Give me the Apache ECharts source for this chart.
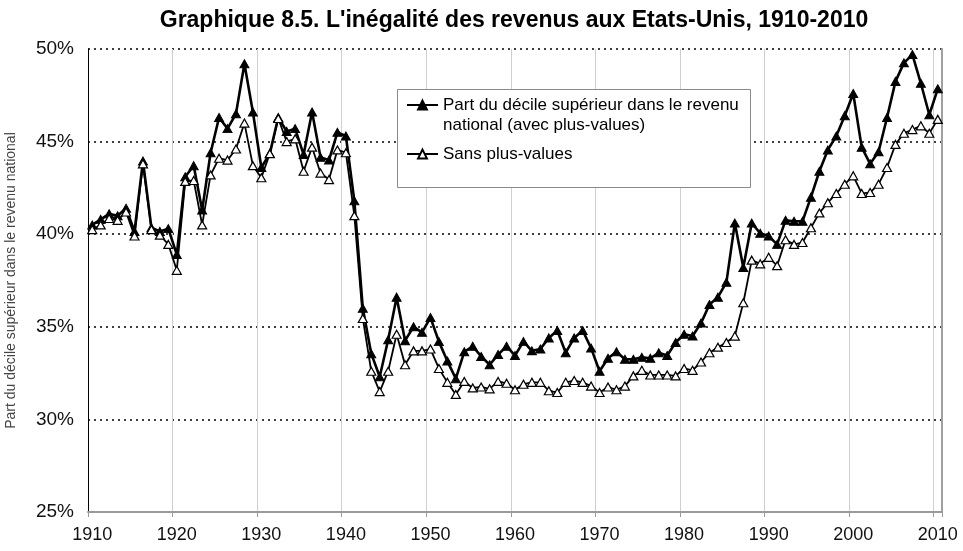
<!DOCTYPE html>
<html>
<head>
<meta charset="utf-8">
<script src="https://cdn.jsdelivr.net/npm/echarts@6/dist/echarts.min.js"></script>
<style>
  html, body { margin: 0; padding: 0; background: #fff; }
  #chart { width: 963px; height: 551px; }
</style>
</head>
<body>
<div id="chart"></div>
<script>
// years 1910 .. 2010
const years = []
for (let y = 1910; y <= 2010; y++) years.push(String(y))

// Part du décile supérieur (avec plus-values), %
const withGains = [
  40.5, 40.8, 41.1, 41.0, 41.4, 40.15, 43.95, 40.35, 40.15, 40.3,
  38.9, 43.1, 43.7, 41.3, 44.4, 46.3, 45.7, 46.5, 49.2, 46.6,
  43.6, 44.35, 46.3, 45.55, 45.7, 44.3, 46.6, 44.15, 44.0, 45.5,
  45.3, 41.8, 36.0, 33.55, 32.3, 34.3, 36.6, 34.25, 35.0, 34.7,
  35.5, 34.2, 33.15, 32.2, 33.65, 33.95, 33.4, 32.95, 33.5, 33.95,
  33.45, 34.2, 33.7, 33.8, 34.4, 34.8, 33.6, 34.4, 34.8, 33.85,
  32.6, 33.3, 33.65, 33.25, 33.25, 33.35, 33.3, 33.6, 33.45, 34.15,
  34.6, 34.5, 35.2, 36.2, 36.6, 37.4, 40.6, 38.2, 40.6, 40.05,
  39.9, 39.45, 40.75, 40.7, 40.7, 42.0, 43.4, 44.55, 45.3, 46.4,
  47.6, 44.7, 43.8, 44.45, 46.3, 48.25, 49.25, 49.7, 48.15, 46.45,
  47.85
]

// Sans plus-values, %
const withoutGains = [
  40.25, 40.5, 40.85, 40.75, 41.2, 39.9, 43.8, 40.25, 39.95, 39.45,
  38.05, 42.85, 42.9, 40.5, 43.2, 44.1, 44.0, 44.6, 46.0, 43.7,
  43.05, 44.35, 46.25, 45.0, 45.15, 43.4, 44.7, 43.3, 42.95, 44.55,
  44.4, 41.0, 35.45, 32.6, 31.5, 32.6, 34.6, 32.95, 33.7, 33.7,
  33.8, 32.75, 32.0, 31.35, 32.05, 31.7, 31.75, 31.65, 32.05, 31.95,
  31.6, 31.9, 32.0, 32.0, 31.55, 31.45, 32.0, 32.1, 32.0, 31.8,
  31.45, 31.75, 31.6, 31.8, 32.35, 32.65, 32.4, 32.4, 32.4, 32.35,
  32.75, 32.65, 33.1, 33.6, 33.9, 34.15, 34.5, 36.3, 38.6, 38.4,
  38.75, 38.3, 39.7, 39.45, 39.55, 40.35, 41.15, 41.7, 42.2, 42.7,
  43.15, 42.2, 42.25, 42.7, 43.6, 44.85, 45.45, 45.65, 45.85, 45.45,
  46.2
]

const nameA = 'Part du décile supérieur dans le revenu national (avec plus-values)'
const nameB = 'Sans plus-values'

const chart = echarts.init(document.getElementById('chart'))

const option = {
  animation: false,
  textStyle: { fontFamily: 'Liberation Sans, Arial, sans-serif' },
  title: {
    text: "Graphique 8.5. L'inégalité des revenus aux Etats-Unis, 1910-2010",
    left: 509,
    top: 4,
    textAlign: 'center',
    textStyle: { fontSize: 23, fontWeight: 'bold', color: '#000' }
  },
  grid: { left: 88, right: 21, top: 49, bottom: 39, outerBoundsMode: 'none', containLabel: false },
  legend: {
    orient: 'vertical',
    left: 406,
    top: 75,
    padding: 0,
    itemGap: 9,
    itemWidth: 31,
    itemHeight: 11,
    z: 5,
    data: [nameA, nameB],
    // blank first line keeps the marker level with the first text line
    formatter: (name) => name === nameA
      ? '\nPart du décile supérieur dans le revenu\nnational (avec plus-values)'
      : name,
    textStyle: { fontSize: 17, lineHeight: 20, color: '#000' }
  },
  graphic: [{
    type: 'rect',
    left: 397,
    top: 89,
    z: 3,
    shape: { width: 353, height: 98 },
    style: { fill: '#fff', stroke: '#8a8a8a', lineWidth: 1 }
  }],
  xAxis: {
    type: 'category',
    data: years,
    boundaryGap: true,
    axisLine: { lineStyle: { color: '#9a9a9a', width: 2 } },
    axisTick: { show: true, interval: 9, length: 5, lineStyle: { color: '#9a9a9a' } },
    axisLabel: { interval: 9, color: '#111', fontSize: 18, margin: 14 },
    splitLine: { show: true, interval: 9, lineStyle: { color: '#cfcfcf', width: 1 } }
  },
  yAxis: [{
    type: 'value',
    min: 25,
    max: 50,
    interval: 5,
    name: 'Part du décile supérieur dans le revenu national',
    nameLocation: 'middle',
    nameGap: 70,
    nameTextStyle: { fontSize: 14, color: '#444' },
    axisLine: { show: true, lineStyle: { color: '#000', width: 1 } },
    axisTick: { show: false },
    axisLabel: { formatter: '{value}%', color: '#111', fontSize: 19, margin: 14 },
    splitLine: { show: true, lineStyle: { color: '#000', width: 1.5, type: [2, 4] } }
  }, {
    type: 'value',
    position: 'right',
    min: 25,
    max: 50,
    interval: 5,
    axisLine: { show: true, lineStyle: { color: '#a0a0a0', width: 2 } },
    axisTick: { show: false },
    axisLabel: { show: false },
    splitLine: { show: false }
  }],
  series: [{
    name: nameA,
    type: 'line',
    data: withGains,
    symbol: 'triangle',
    symbolSize: [9, 8],
    showAllSymbol: true,
    lineStyle: { color: '#000', width: 2.6 },
    itemStyle: { color: '#000', borderColor: '#000', borderWidth: 1 },
    emphasis: { disabled: true }
  }, {
    name: nameB,
    type: 'line',
    data: withoutGains,
    symbol: 'triangle',
    symbolSize: [9, 8],
    showAllSymbol: true,
    lineStyle: { color: '#000', width: 1.8 },
    itemStyle: { color: '#fff', borderColor: '#000', borderWidth: 1.2 },
    emphasis: { disabled: true }
  }]
}

chart.setOption(option)
</script>
</body>
</html>
